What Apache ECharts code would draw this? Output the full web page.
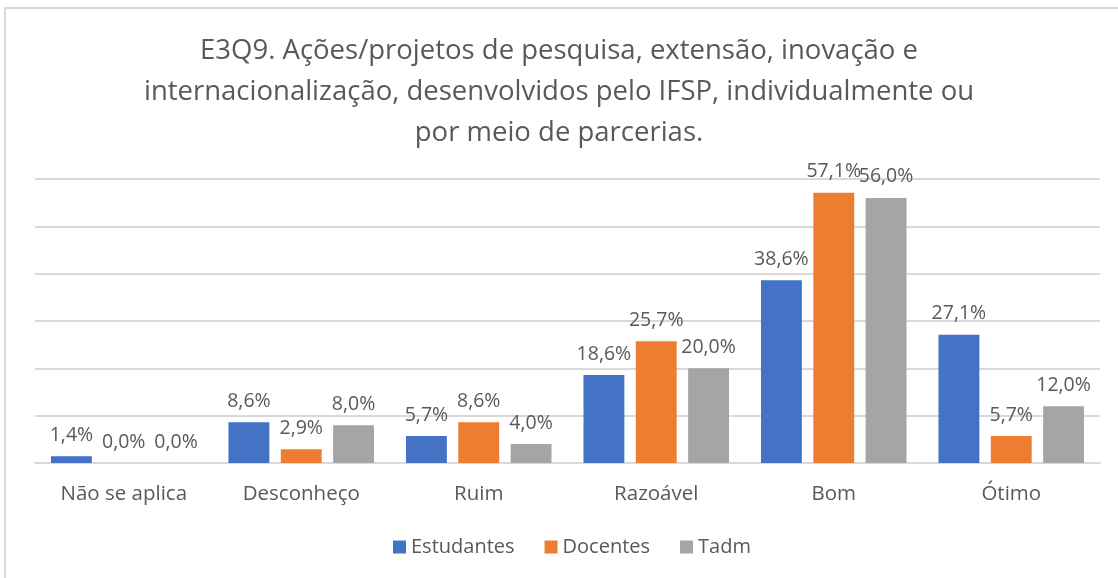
<!DOCTYPE html>
<html>
<head>
<meta charset="utf-8">
<script src="https://cdn.jsdelivr.net/npm/echarts@6/dist/echarts.min.js"></script>
<style>
  html, body { margin: 0; padding: 0; background: #fff; }
  #chart { width: 1118px; height: 578px; }
</style>
</head>
<body>
<div id="chart"></div>
<script>
var categories = ['Não se aplica', 'Desconheço', 'Ruim', 'Razoável', 'Bom', 'Ótimo'];
var estudantes = [1.4, 8.6, 5.7, 18.6, 38.6, 27.1];
var docentes = [0.0, 2.9, 8.6, 25.7, 57.1, 5.7];
var tadm = [0.0, 8.0, 4.0, 20.0, 56.0, 12.0];

var seriesNames = ['Estudantes', 'Docentes', 'Tadm'];
var seriesColors = ['#4472C4', '#ED7D31', '#A5A5A5'];
var seriesData = [estudantes, docentes, tadm];

var dom = document.getElementById('chart');
var myChart = echarts.init(dom);
var font = 'Open Sans';

function pct(p) {
    return p.value.toFixed(1).replace('.', ',') + '%';
}

var option = {
    animation: false,
    title: {
        text: 'E3Q9. Ações/projetos de pesquisa, extensão, inovação e\ninternacionalização, desenvolvidos pelo IFSP, individualmente ou\npor meio de parcerias.',
        left: 'center',
        top: 26,
        textStyle: {
            color: '#595959',
            fontFamily: font,
            fontWeight: 'normal',
            fontSize: 27.5,
            lineHeight: 41
        }
    },
    graphic: [{
        type: 'rect',
        shape: { x: 5, y: 8, width: 1200, height: 700 },
        style: { fill: 'none', stroke: '#d9d9d9', lineWidth: 2 },
        silent: true
    }],
    legend: {
        data: seriesNames,
        bottom: 16,
        left: 388,
        itemWidth: 13,
        itemHeight: 13,
        itemGap: 30,
        icon: 'rect',
        textStyle: { color: '#595959', fontFamily: font, fontSize: 20 }
    },
    grid: { left: 35, right: 18, top: 179, bottom: 115 },
    xAxis: {
        type: 'category',
        data: categories,
        axisLine: { lineStyle: { color: '#d9d9d9', width: 2 } },
        axisTick: { show: false },
        axisLabel: { color: '#595959', fontFamily: font, fontSize: 20.5, margin: 21 }
    },
    yAxis: {
        type: 'value',
        min: 0,
        max: 60,
        interval: 10,
        axisLabel: { show: false },
        axisLine: { show: false },
        axisTick: { show: false },
        splitLine: { lineStyle: { color: '#d9d9d9', width: 2 } }
    },
    series: seriesNames.map(function (name, i) {
        return {
            name: name,
            type: 'bar',
            data: seriesData[i],
            barGap: '28%',
            barCategoryGap: '18%',
            itemStyle: { color: seriesColors[i] },
            label: {
                show: true,
                position: 'top',
                distance: 11,
                formatter: pct,
                color: '#595959',
                fontFamily: font,
                fontSize: 19.5
            }
        };
    })
};

myChart.setOption(option);
</script>
</body>
</html>
